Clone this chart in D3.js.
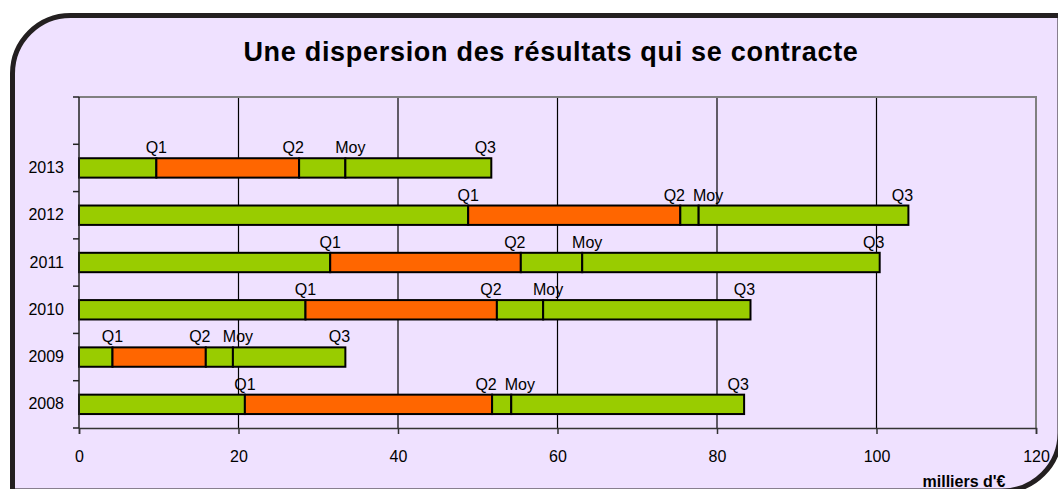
<!DOCTYPE html>
<html>
<head>
<meta charset="utf-8">
<script src="https://d3js.org/d3.v7.min.js"></script>
<style>
  body { margin: 0; background: #fff; }
  svg { display: block; font-family: "Liberation Sans", Arial, sans-serif; }
</style>
</head>
<body>
<svg id="chart" width="1058" height="489"></svg>
<script>
"use strict";

// Data (milliers d'euros)
var years = ["2008", "2009", "2010", "2011", "2012", "2013"];
var q1 = [20.8, 4.2, 28.4, 31.5, 48.8, 9.7];
var q2 = [51.8, 15.9, 52.4, 55.4, 75.4, 27.6];
var moy = [54.2, 19.3, 58.2, 63.1, 77.7, 33.4];
var q3 = [83.4, 33.4, 84.2, 100.4, 104.0, 51.7];
var xTicks = [0, 20, 40, 60, 80, 100, 120];
var markLabels = ["Q1", "Q2", "Moy", "Q3"];

var title = "Une dispersion des résultats qui se contracte";
var unitLabel = "milliers d'€";

var FONT = "'Liberation Sans', Arial, sans-serif";
var colors = {
  bg: "#efe1ff",
  frame: "#231f20",
  green: "#99cc00",
  orange: "#ff6600"
};

var graph = {};
graph.svg = d3.select("#chart");
graph.width = +graph.svg.attr("width");
graph.height = +graph.svg.attr("height");

// frame with two rounded corners (top-left, bottom-right)
var fr = { l: 12.5, t: 15.5, r: 1060, b: 491, rad: 58 };
var framePath = d3.path();
framePath.moveTo(fr.l + fr.rad, fr.t);
framePath.lineTo(fr.r, fr.t);
framePath.lineTo(fr.r, fr.b - fr.rad);
framePath.arcTo(fr.r, fr.b, fr.r - fr.rad, fr.b, fr.rad);
framePath.lineTo(fr.l, fr.b);
framePath.lineTo(fr.l, fr.t + fr.rad);
framePath.arcTo(fr.l, fr.t, fr.l + fr.rad, fr.t, fr.rad);
framePath.closePath();

graph.svg.append("path")
  .attr("d", framePath.toString())
  .attr("fill", colors.bg)
  .attr("stroke", colors.frame)
  .attr("stroke-width", 5);

graph.svg.append("text")
  .attr("x", 551)
  .attr("y", 61)
  .attr("text-anchor", "middle")
  .attr("font-family", FONT)
  .attr("font-size", 27)
  .attr("letter-spacing", 0.7)
  .attr("font-weight", "bold")
  .attr("fill", "#000")
  .text(title);

var plot = { left: 79, top: 97, right: 1036, bottom: 428 };

var x = d3.scaleLinear()
  .domain([0, 120])
  .range([plot.left, plot.right]);

// one empty slot on top, like the original category axis
var y = d3.scaleBand()
  .domain([""].concat(years.slice().reverse()))
  .range([plot.top, plot.bottom]);

// vertical gridlines
graph.svg.append("g")
  .selectAll("line")
  .data(xTicks.filter(function(d) { return d > 0 && d < 120; }))
  .enter()
  .append("line")
  .attr("x1", function(d) { return x(d); })
  .attr("x2", function(d) { return x(d); })
  .attr("y1", plot.top)
  .attr("y2", plot.bottom)
  .attr("stroke", "#000")
  .attr("stroke-width", 1.2);

// plot area border (top / right)
graph.svg.append("path")
  .attr("d", "M" + plot.left + "," + plot.top + "H" + plot.right + "V" + plot.bottom)
  .attr("fill", "none")
  .attr("stroke", "#808080")
  .attr("stroke-width", 2);

// bars
var rows = years.map(function(yr, i) {
  return { year: yr, marks: [0, q1[i], q2[i], moy[i], q3[i]] };
});
var segColors = [colors.green, colors.orange, colors.green, colors.green];
var barH = y.bandwidth() * 0.41;

var rowG = graph.svg.append("g")
  .selectAll("g")
  .data(rows)
  .enter()
  .append("g")
  .attr("transform", function(d) {
    return "translate(0," + (y(d.year) + (y.bandwidth() - barH) / 2) + ")";
  });

rowG.selectAll("rect")
  .data(function(d) {
    return d3.range(4).map(function(k) {
      return { x0: d.marks[k], x1: d.marks[k + 1], k: k };
    });
  })
  .enter()
  .append("rect")
  .attr("x", function(d) { return x(d.x0); })
  .attr("width", function(d) { return x(d.x1) - x(d.x0); })
  .attr("y", 0)
  .attr("height", barH)
  .attr("fill", function(d) { return segColors[d.k]; })
  .attr("stroke", "#000")
  .attr("stroke-width", 2);

// labels above markers
var labelDx = [0, -6, 5, -6];
rowG.each(function(d) {
  var g = d3.select(this);
  var prevRight = -Infinity;
  markLabels.forEach(function(lbl, k) {
    var t = g.append("text")
      .attr("y", -5)
      .attr("text-anchor", "middle")
      .attr("font-family", FONT)
      .attr("font-size", 16)
      .attr("fill", "#000")
      .text(lbl);
    var w = t.node().getComputedTextLength();
    var cx = x(d.marks[k + 1]) + labelDx[k];
    if (cx - w / 2 < prevRight + 8) cx = prevRight + 8 + w / 2;
    t.attr("x", cx);
    prevRight = cx + w / 2;
  });
});

// left axis: labels centred, ticks on band edges
var yAxis = graph.svg.append("g")
  .attr("transform", "translate(" + plot.left + ",0)")
  .call(d3.axisLeft(y).tickSize(0).tickPadding(15));
yAxis.select(".domain").remove();
yAxis.selectAll("text")
  .attr("font-size", 16)
  .attr("font-family", FONT)
  .attr("fill", "#000");

graph.svg.append("g")
  .selectAll("line")
  .data(y.domain().map(function(d) { return y(d); }).concat([plot.bottom]))
  .enter()
  .append("line")
  .attr("x1", plot.left - 6)
  .attr("x2", plot.left)
  .attr("y1", function(d) { return d; })
  .attr("y2", function(d) { return d; })
  .attr("stroke", "#222")
  .attr("stroke-width", 1.5);

graph.svg.append("line")
  .attr("x1", plot.left).attr("x2", plot.left)
  .attr("y1", plot.top).attr("y2", plot.bottom)
  .attr("stroke", "#222")
  .attr("stroke-width", 1.5);

// bottom axis
var xAxis = graph.svg.append("g")
  .attr("transform", "translate(0," + plot.bottom + ")")
  .call(d3.axisBottom(x).tickValues(xTicks).tickSize(6).tickPadding(17));
xAxis.select(".domain")
  .attr("stroke", "#333")
  .attr("stroke-width", 1.5);
xAxis.selectAll(".tick line")
  .attr("stroke", "#333")
  .attr("stroke-width", 1.5);
xAxis.selectAll("text")
  .attr("font-size", 16)
  .attr("font-family", FONT)
  .attr("fill", "#000");

graph.svg.append("text")
  .attr("x", 964)
  .attr("y", 487)
  .attr("text-anchor", "middle")
  .attr("font-family", FONT)
  .attr("font-size", 16)
  .attr("font-weight", "bold")
  .attr("fill", "#000")
  .text(unitLabel);
</script>
</body>
</html>
